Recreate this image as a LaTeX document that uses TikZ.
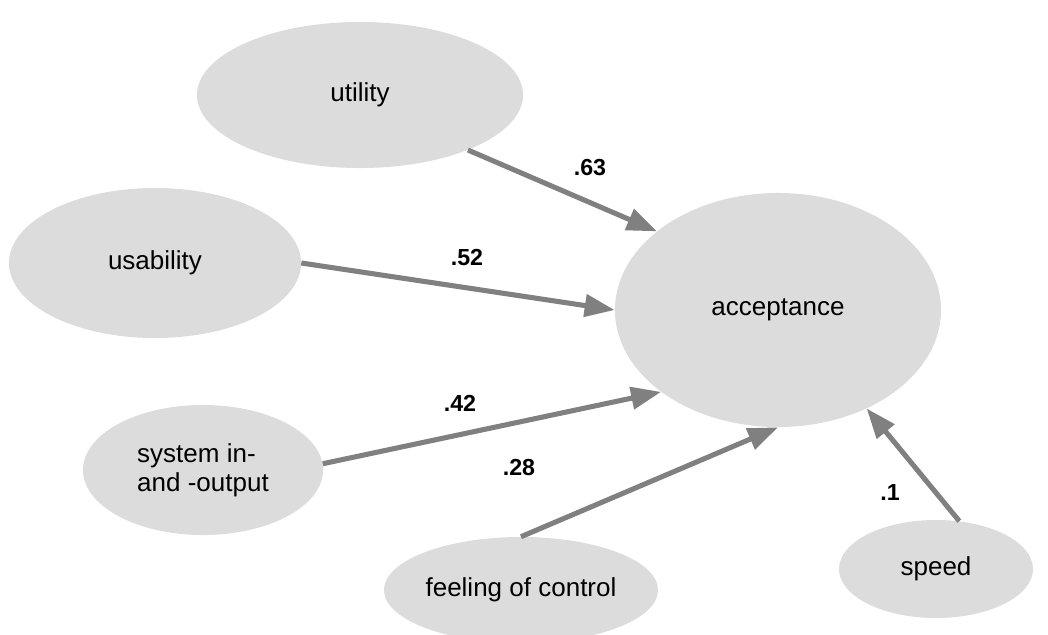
\documentclass[tikz,border=0pt]{standalone}
\usepackage{fontspec}
\setmainfont{Liberation Sans}
\usepackage{xcolor}
\usetikzlibrary{arrows.meta,shapes.geometric}

\definecolor{constructgray}{RGB}{220,220,220}
\definecolor{pathgray}{RGB}{128,128,128}

\begin{document}
\begin{tikzpicture}[x=0.025cm,y=-0.025cm,
  construct/.style={ellipse,fill=constructgray,inner sep=0pt,
    font=\fontsize{18.5}{20.6}\selectfont},
  effect/.style={-{Triangle[length=0.75cm,width=0.55cm]},draw=pathgray,
    fill=pathgray,line width=3.6pt},
  weight/.style={font=\bfseries\fontsize{16.5}{19}\selectfont}]
  \useasboundingbox (0,0) rectangle (1048,634);

  % Konstrukter
  \node[construct,minimum width=8.15cm,minimum height=3.65cm] (utility) at (360,95) {utility};
  \node[construct,minimum width=7.3cm,minimum height=3.75cm] (usability) at (155,263) {usability};
  \node[construct,minimum width=8.15cm,minimum height=5.85cm] (accept) at (778,310) {acceptance};
  \node[construct,minimum width=6cm,minimum height=3.25cm,align=left] (sysio) at (203,470) {system in-\\and -output};
  \node[construct,minimum width=6.85cm,minimum height=2.65cm] (control) at (521,590) {feeling of control};
  \node[construct,minimum width=4.85cm,minimum height=2.45cm] (speed) at (936,569) {speed};

  % Stier
  \draw[effect] (utility.-27) -- (accept.147);
  \draw[effect] (usability.east) -- (accept.west);
  \draw[effect] (sysio.3) -- (accept.215);
  \draw[effect] (control.north) -- (accept.south);
  \draw[effect] (speed.64) -- (accept.-48);

  % Koefficienter
  \node[weight] (w63) at (590,168) {.63};
  \node[weight] (w52) at (467,258) {.52};
  \node[weight] (w42) at (460,403) {.42};
  \node[weight] (w28) at (519,468) {.28};
  \node[weight] (w1) at (890,493) {.1};
\end{tikzpicture}
\end{document}
